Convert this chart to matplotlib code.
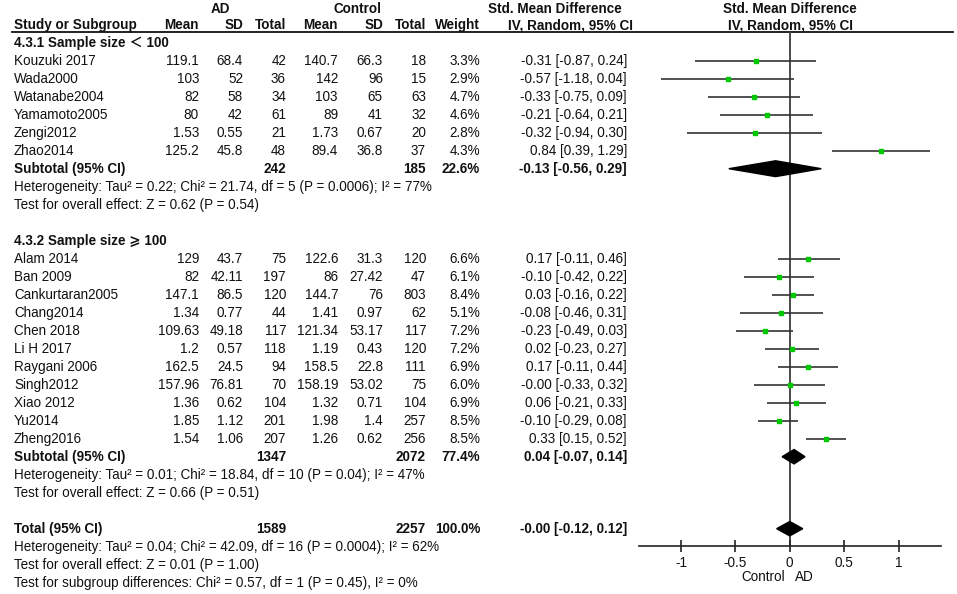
import numpy as np
import matplotlib
matplotlib.use("Agg")
import matplotlib.pyplot as plt

plt.rcParams['font.family'] = ['Liberation Sans', 'Noto Sans CJK SC', 'DejaVu Sans']

# --- Données ---
studies1 = ["Kouzuki 2017", "Wada2000", "Watanabe2004", "Yamamoto2005", "Zengi2012", "Zhao2014"]
ad_mean1 = [119.1, 103, 82, 80, 1.53, 125.2]
ad_sd1 = [68.4, 52, 58, 42, 0.55, 45.8]
ad_n1 = [42, 36, 34, 61, 21, 48]
ct_mean1 = [140.7, 142, 103, 89, 1.73, 89.4]
ct_sd1 = [66.3, 96, 65, 41, 0.67, 36.8]
ct_n1 = [18, 15, 63, 32, 20, 37]
weight1 = [3.3, 2.9, 4.7, 4.6, 2.8, 4.3]
smd1 = [-0.31, -0.57, -0.33, -0.21, -0.32, 0.84]
lo1 = [-0.87, -1.18, -0.75, -0.64, -0.94, 0.39]
hi1 = [0.24, 0.04, 0.09, 0.21, 0.30, 1.29]

studies2 = ["Alam 2014", "Ban 2009", "Cankurtaran2005", "Chang2014", "Chen 2018", "Li H 2017",
            "Raygani 2006", "Singh2012", "Xiao 2012", "Yu2014", "Zheng2016"]
ad_mean2 = [129, 82, 147.1, 1.34, 109.63, 1.2, 162.5, 157.96, 1.36, 1.85, 1.54]
ad_sd2 = [43.7, 42.11, 86.5, 0.77, 49.18, 0.57, 24.5, 76.81, 0.62, 1.12, 1.06]
ad_n2 = [75, 197, 120, 44, 117, 118, 94, 70, 104, 201, 207]
ct_mean2 = [122.6, 86, 144.7, 1.41, 121.34, 1.19, 158.5, 158.19, 1.32, 1.98, 1.26]
ct_sd2 = [31.3, 27.42, 76, 0.97, 53.17, 0.43, 22.8, 53.02, 0.71, 1.4, 0.62]
ct_n2 = [120, 47, 803, 62, 117, 120, 111, 75, 104, 257, 256]
weight2 = [6.6, 6.1, 8.4, 5.1, 7.2, 7.2, 6.9, 6.0, 6.9, 8.5, 8.5]
smd2 = [0.17, -0.10, 0.03, -0.08, -0.23, 0.02, 0.17, -0.0, 0.06, -0.10, 0.33]
lo2 = [-0.11, -0.42, -0.16, -0.46, -0.49, -0.23, -0.11, -0.33, -0.21, -0.29, 0.15]
hi2 = [0.46, 0.22, 0.22, 0.31, 0.03, 0.27, 0.44, 0.32, 0.33, 0.08, 0.52]

# sous-totaux et total
pooled_labels = ["Subtotal (95% CI)", "Subtotal (95% CI)", "Total (95% CI)"]
pooled_ad_n = [242, 1347, 1589]
pooled_ct_n = [185, 2072, 2257]
pooled_weight = [22.6, 77.4, 100.0]
pooled_smd = [-0.13, 0.04, -0.0]
pooled_lo = [-0.56, -0.07, -0.12]
pooled_hi = [0.29, 0.14, 0.12]

group_titles = ["4.3.1 Sample size \uff1c 100", "4.3.2 Sample size \u2a7e 100"]
stats_lines = [
    "Heterogeneity: Tau\u00b2 = 0.22; Chi\u00b2 = 21.74, df = 5 (P = 0.0006); I\u00b2 = 77%",
    "Test for overall effect: Z = 0.62 (P = 0.54)",
    "Heterogeneity: Tau\u00b2 = 0.01; Chi\u00b2 = 18.84, df = 10 (P = 0.04); I\u00b2 = 47%",
    "Test for overall effect: Z = 0.66 (P = 0.51)",
    "Heterogeneity: Tau\u00b2 = 0.04; Chi\u00b2 = 42.09, df = 16 (P = 0.0004); I\u00b2 = 62%",
    "Test for overall effect: Z = 0.01 (P = 1.00)",
    "Test for subgroup differences: Chi\u00b2 = 0.57, df = 1 (P = 0.45), I\u00b2 = 0%",
]
xticks = [-1, -0.5, 0, 0.5, 1]
xtick_labels = ["-1", "-0.5", "0", "0.5", "1"]

# --- Géométrie (pixels) ---
W, H = 957, 594
ROW0, DY = 42.7, 18.0           # centre de la ligne 0 et pas vertical
FS = 9.75
def row_of(px):
    return (px - ROW0) / DY

rows1 = list(range(1, 7))
rows2 = list(range(12, 23))
pooled_rows = [7, 23, 27]
stats_rows = [8, 9, 24, 25, 28, 29, 30]
title_rows = [0, 11]

# colonnes (bord droit des nombres)
col_study = 14
col_ad_mean, col_ad_sd, col_ad_n = 199, 243, 286
col_ct_mean, col_ct_sd, col_ct_n = 338, 383, 426
col_weight, col_ci = 480, 627

fig = plt.figure(figsize=(W / 100, H / 100), dpi=100)
fig.patch.set_facecolor('white')

# axe texte couvrant toute la figure, x en pixels, y en lignes
axt = fig.add_axes([0, 0, 1, 1])
axt.set_xlim(0, W)
axt.set_ylim(row_of(H), row_of(0))
axt.axis('off')

def txt(x, r, s, ha='right', bold=False):
    axt.text(x, r, s, ha=ha, va='center', fontsize=FS,
             fontweight='bold' if bold else 'normal', color='#111111')

# en-têtes
txt(220, row_of(9), "AD", ha='center', bold=True)
txt(358, row_of(9), "Control", ha='center', bold=True)
txt(555, row_of(9), "Std. Mean Difference", ha='center', bold=True)
txt(790, row_of(9), "Std. Mean Difference", ha='center', bold=True)
r_head = row_of(25)
txt(col_study, r_head, "Study or Subgroup", ha='left', bold=True)
for x, s in [(col_ad_mean, "Mean"), (col_ad_sd, "SD"), (col_ad_n, "Total"),
             (col_ct_mean, "Mean"), (col_ct_sd, "SD"), (col_ct_n, "Total"),
             (col_weight, "Weight")]:
    txt(x, r_head, s, bold=True)
txt(570, r_head, "IV, Random, 95% CI", ha='center', bold=True)
txt(790, r_head, "IV, Random, 95% CI", ha='center', bold=True)
axt.plot([12, 953], [row_of(32), row_of(32)], color='#111111', lw=1.3)

# lignes d'études
def study_rows(rows, names, am, asd, an, cm, csd, cn, w, e, lo, hi):
    for k, r in enumerate(rows):
        txt(col_study, r, names[k], ha='left')
        txt(col_ad_mean, r, f"{am[k]:g}")
        txt(col_ad_sd, r, f"{asd[k]:g}")
        txt(col_ad_n, r, f"{an[k]}")
        txt(col_ct_mean, r, f"{cm[k]:g}")
        txt(col_ct_sd, r, f"{csd[k]:g}")
        txt(col_ct_n, r, f"{cn[k]}")
        txt(col_weight, r, f"{w[k]:.1f}%")
        txt(col_ci, r, f"{e[k]:.2f} [{lo[k]:.2f}, {hi[k]:.2f}]")

study_rows(rows1, studies1, ad_mean1, ad_sd1, ad_n1, ct_mean1, ct_sd1, ct_n1,
           weight1, smd1, lo1, hi1)
study_rows(rows2, studies2, ad_mean2, ad_sd2, ad_n2, ct_mean2, ct_sd2, ct_n2,
           weight2, smd2, lo2, hi2)

for r, s in zip(title_rows, group_titles):
    txt(col_study, r, s, ha='left', bold=True)
for k, r in enumerate(pooled_rows):
    txt(col_study, r, pooled_labels[k], ha='left', bold=True)
    txt(col_ad_n, r, f"{pooled_ad_n[k]}", bold=True)
    txt(col_ct_n, r, f"{pooled_ct_n[k]}", bold=True)
    txt(col_weight, r, f"{pooled_weight[k]:.1f}%", bold=True)
    txt(col_ci, r, f"{pooled_smd[k]:.2f} [{pooled_lo[k]:.2f}, {pooled_hi[k]:.2f}]", bold=True)
for r, s in zip(stats_rows, stats_lines):
    txt(col_study, r, s, ha='left')

# --- Forest plot ---
x0_px, x1_px = 639, 941
top_px, bot_px = 32, 546
axf = fig.add_axes([x0_px / W, 1 - bot_px / H, (x1_px - x0_px) / W, (bot_px - top_px) / H])
axf.patch.set_alpha(0)
axf.set_xlim(-1.385, 1.39)
axf.set_ylim(row_of(bot_px), row_of(top_px))
for side in ['top', 'right', 'left']:
    axf.spines[side].set_visible(False)
axf.spines['bottom'].set_color('#222222')
axf.spines['bottom'].set_linewidth(1.2)
axf.set_yticks([])
axf.set_xticks(xticks)
axf.set_xticklabels(xtick_labels, fontsize=FS, color='#111111')
axf.tick_params(axis='x', direction='inout', length=8, width=1.2, color='#222222', pad=3)

axf.axvline(0, color='#4a4a4a', lw=1.4, zorder=1)

all_rows = rows1 + rows2
all_smd = smd1 + smd2
all_lo = lo1 + lo2
all_hi = hi1 + hi2
axf.hlines(all_rows, all_lo, all_hi, color='#333333', lw=1.2, zorder=2)
axf.plot(all_smd, all_rows, 's', color='#00c800', ms=3.3, mec='#00c800', zorder=3)

half_h = [0.44, 0.40, 0.40]
for k, r in enumerate(pooled_rows):
    h = half_h[k]
    axf.fill([pooled_lo[k], pooled_smd[k], pooled_hi[k], pooled_smd[k]],
             [r, r - h, r, r + h], color='black', zorder=4)

axf.text(-0.04, -0.061, "Control", transform=axf.get_xaxis_transform(),
         ha='right', va='center', fontsize=FS, color='#111111')
axf.text(0.05, -0.061, "AD", transform=axf.get_xaxis_transform(),
         ha='left', va='center', fontsize=FS, color='#111111')

fig.savefig("out.png", dpi=100)
